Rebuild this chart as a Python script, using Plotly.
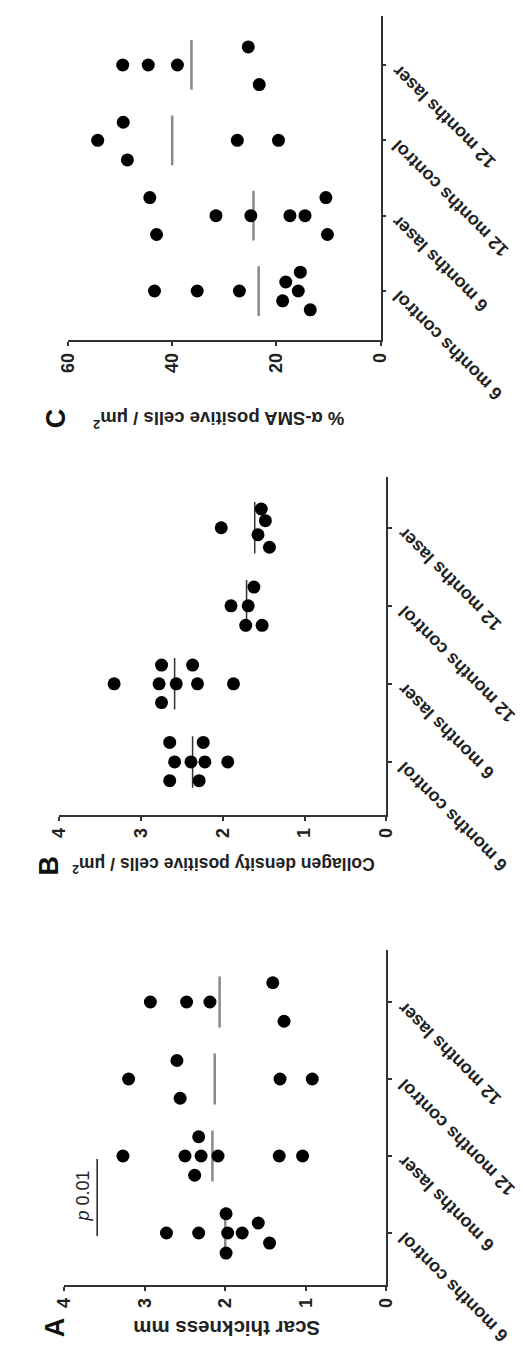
import plotly.graph_objects as go

categories = ["6 months control", "6 months laser", "12 months control", "12 months laser"]

# Panel A: scar thickness (mm)
a_values = [
    [2.73, 2.33, 1.97, 1.79, 1.99, 1.99, 1.59, 1.45],
    [3.27, 2.50, 2.30, 2.09, 2.33, 2.38, 1.33, 1.04],
    [3.20, 2.60, 2.56, 1.32, 0.92],
    [2.93, 2.48, 2.19, 1.41, 1.27],
]
a_offsets = [
    [0, 0, 0, 0, 0.25, -0.26, 0.13, -0.13],
    [0, 0, 0, 0, 0.25, -0.25, 0, 0],
    [0, 0.24, -0.25, 0, 0],
    [0, 0, 0, 0.25, -0.25],
]
a_means = [2.00, 2.16, 2.13, 2.07]

# Panel B: collagen density
b_values = [
    [2.65, 2.24, 2.59, 2.39, 2.22, 1.94, 2.65, 2.29],
    [3.33, 2.78, 2.57, 2.31, 1.87, 2.75, 2.37, 2.75],
    [1.90, 1.69, 1.62, 1.72, 1.52],
    [2.02, 1.53, 1.48, 1.57, 1.43],
]
b_offsets = [
    [0.25, 0.25, 0, 0, 0, 0, -0.24, -0.24],
    [0, 0, 0, 0, 0, 0.24, 0.24, -0.24],
    [0, 0, 0.24, -0.25, -0.25],
    [0, 0.24, 0.09, -0.09, -0.25],
]
b_means = [2.37, 2.59, 1.71, 1.61]

# Panel C: % alpha-SMA positive cells
c_values = [
    [43.4, 35.2, 27.1, 15.8, 15.4, 18.2, 18.8, 13.5],
    [44.3, 43.0, 31.6, 24.9, 17.4, 14.5, 10.5, 10.2],
    [54.3, 49.4, 48.6, 27.5, 19.6],
    [49.5, 44.6, 39.0, 25.4, 23.3],
]
c_offsets = [
    [0, 0, 0, 0, 0.25, 0.12, -0.13, -0.25],
    [0.24, -0.25, 0, 0, 0, 0, 0.24, -0.25],
    [0, 0.24, -0.26, 0, 0],
    [0, 0, 0, 0.24, -0.26],
]
c_means = [23.4, 24.4, 40.0, 36.3]

a_ticks = [0, 1, 2, 3, 4]
b_ticks = [0, 1, 2, 3, 4]
c_ticks = [0, 20, 40, 60]

p_text = "<i>p</i> 0.01"
p_value_pos = 3.59
p_text_pos = 3.76

panels = [
    dict(key="", values=a_values, offsets=a_offsets, means=a_means, ticks=a_ticks,
         xrange=[4, 0], yrange=[-0.675, 3.675], xdom=[48/523, 383/523], ydom=[1-1277/1346, 1-942/1346],
         title="<b>Scar thickness mm</b>", title_size=20.5, letter="A", letter_x=21/523, letter_y=1-1331/1346,
         title_x=0.504, title_y=1-1334/1346, mean_color="#8a8a8a", mean_width=2.5),
    dict(key="2", values=b_values, offsets=b_offsets, means=b_means, ticks=b_ticks,
         xrange=[4, 0], yrange=[-0.68, 3.65], xdom=[43/523, 383/523], ydom=[1-807/1346, 1-469/1346],
         title="<b>Collagen density positive cells / μm<sup>2</sup></b>", title_size=17.5, letter="B",
         letter_x=15/523, letter_y=1-857/1346, title_x=0.5, title_y=1-857/1346,
         mean_color="#333333", mean_width=1.5),
    dict(key="3", values=c_values, offsets=c_offsets, means=c_means, ticks=c_ticks,
         xrange=[60, 0], yrange=[-0.65, 3.65], xdom=[52/523, 377/523], ydom=[1-332/1346, 1-8/1346],
         title="<b>% α-SMA positive cells / μm<sup>2</sup></b>", title_size=18.5, letter="C",
         letter_x=22/523, letter_y=1-398/1346, title_x=0.482, title_y=1-398/1346,
         mean_color="#8a8a8a", mean_width=2.5),
]

fig = go.Figure()
annotations = []
layout = {}
FONT = "Liberation Sans, Arial, sans-serif"
AXC = "#333333"

for p in panels:
    k = p["key"]
    xa, ya = "x" + k, "y" + k
    # mean lines
    for i, m in enumerate(p["means"]):
        fig.add_trace(go.Scatter(x=[m, m], y=[i - 0.33, i + 0.33], mode="lines",
                                 line=dict(color=p["mean_color"], width=p["mean_width"]),
                                 xaxis=xa, yaxis=ya, showlegend=False, hoverinfo="skip"))
    # dots
    for i, (vals, offs) in enumerate(zip(p["values"], p["offsets"])):
        fig.add_trace(go.Scatter(x=vals, y=[i + o for o in offs], mode="markers",
                                 marker=dict(color="black", size=13),
                                 xaxis=xa, yaxis=ya, showlegend=False))
    layout["xaxis" + k] = dict(domain=p["xdom"], range=p["xrange"], anchor=ya,
                               showline=True, linecolor=AXC, linewidth=1.5,
                               ticks="outside", ticklen=4, tickwidth=1.5, tickcolor=AXC,
                               tickvals=p["ticks"], tickangle=-90,
                               tickfont=dict(family=FONT, size=18, color="#222", weight="bold"),
                               showgrid=False, zeroline=False)
    layout["yaxis" + k] = dict(domain=p["ydom"], range=p["yrange"], anchor=xa, side="right",
                               showline=True, linecolor=AXC, linewidth=1.5,
                               ticks="outside", ticklen=4, tickwidth=1.5, tickcolor=AXC,
                               tickvals=[0, 1, 2, 3], showticklabels=False,
                               showgrid=False, zeroline=False)
    for i, c in enumerate(categories):
        annotations.append(dict(text="<b>" + c + "</b>", textangle=-135, xref=xa + " domain", x=1,
                                yref=ya, y=i, xanchor="left", yanchor="top", xshift=5, yshift=7,
                                showarrow=False, font=dict(family=FONT, size=18, color="#222")))
    annotations.append(dict(text=p["title"], textangle=180, xref="paper",
                            x=p["xdom"][0] + p["title_x"] * (p["xdom"][1] - p["xdom"][0]),
                            yref="paper", y=p["title_y"], showarrow=False,
                            font=dict(family=FONT, size=p["title_size"], color="#222")))
    annotations.append(dict(text="<b>" + p["letter"] + "</b>", textangle=-90, xref="paper", x=p["letter_x"],
                            yref="paper", y=p["letter_y"], showarrow=False,
                            font=dict(family=FONT, size=27, color="#111")))

# significance bar in panel A
fig.add_trace(go.Scatter(x=[p_value_pos, p_value_pos], y=[-0.04, 0.96], mode="lines",
                         line=dict(color="#222", width=1.5), xaxis="x", yaxis="y",
                         showlegend=False, hoverinfo="skip"))
annotations.append(dict(text=p_text, textangle=-90, xref="x", x=p_text_pos, yref="y", y=0.48,
                        showarrow=False, font=dict(family=FONT, size=18, color="#222")))

fig.update_layout(width=523, height=1346, margin=dict(l=0, r=0, t=0, b=0),
                  paper_bgcolor="white", plot_bgcolor="white",
                  annotations=annotations, **layout)
fig.write_html("out.html")
